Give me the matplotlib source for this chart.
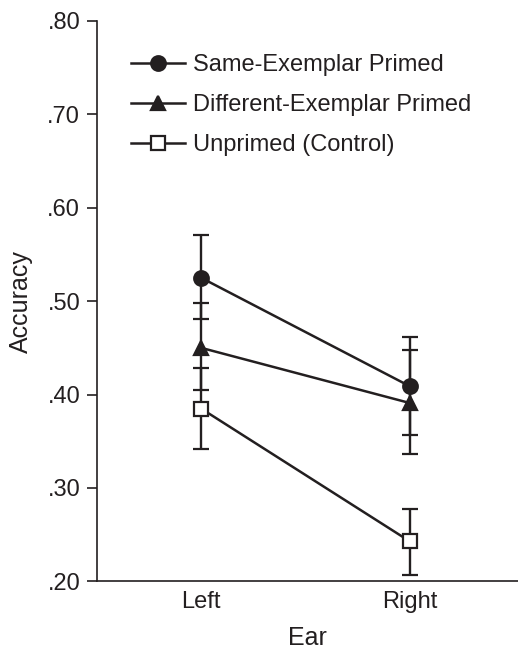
import matplotlib
matplotlib.use("Agg")
import matplotlib.pyplot as plt
import numpy as np

plt.rcParams['font.family'] = ['Liberation Sans', 'DejaVu Sans']

ears = ['Left', 'Right']
labels = ['Same-Exemplar Primed', 'Different-Exemplar Primed', 'Unprimed (Control)']

# accuracy means per ear (Left, Right)
same_mean = [0.525, 0.409]
diff_mean = [0.450, 0.391]
unprimed_mean = [0.385, 0.243]

# error bars: lower / upper extent
same_lo = [0.044, 0.052]
same_hi = [0.046, 0.053]
diff_lo = [0.045, 0.055]
diff_hi = [0.048, 0.057]
unprimed_lo = [0.043, 0.036]
unprimed_hi = [0.043, 0.034]

ink = '#231f20'

fig = plt.figure(figsize=(5.18, 6.5), dpi=100)
ax = fig.add_axes([0.187, 0.1055, 0.813, 0.8625])

x = np.arange(len(ears))
series = [
    (same_mean, same_lo, same_hi, 'o', ink),
    (diff_mean, diff_lo, diff_hi, '^', ink),
    (unprimed_mean, unprimed_lo, unprimed_hi, 's', 'white'),
]
handles = []
for (m, lo, hi, mk, fc), lab in zip(series, labels):
    c = ax.errorbar(x, m, yerr=[lo, hi], color=ink, lw=1.8, marker=mk,
                    markersize=10.5 if mk != 's' else 10, mfc=fc, mec=ink, mew=1.6,
                    capsize=5.5, capthick=1.8, elinewidth=1.7, label=lab)
    handles.append(c[0])

ax.set_ylim(0.20, 0.80)
ax.set_xlim(-0.5, 1.52)
ax.set_yticks(np.arange(0.2, 0.81, 0.1))
ax.set_yticklabels(['.20', '.30', '.40', '.50', '.60', '.70', '.80'])
ax.set_xticks(x)
ax.set_xticklabels(ears)

for s in ['top', 'right']:
    ax.spines[s].set_visible(False)
for s in ['left', 'bottom']:
    ax.spines[s].set_color(ink)
    ax.spines[s].set_linewidth(1.2)

ax.tick_params(axis='y', colors=ink, labelsize=17, length=7, width=1.2, pad=5)
ax.tick_params(axis='x', colors=ink, labelsize=17, length=0, pad=7)

ax.set_xlabel('Ear', fontsize=18, color=ink, labelpad=9)
ax.set_ylabel('Accuracy', fontsize=18, color=ink, labelpad=10)

leg = ax.legend(handles, labels, loc='upper left', bbox_to_anchor=(0.08, 0.94),
                frameon=False, fontsize=17, handlelength=2.3, handletextpad=0.35,
                labelspacing=0.75, borderaxespad=0, borderpad=0)
for t in leg.get_texts():
    t.set_color(ink)

fig.savefig('out.png', dpi=100)
